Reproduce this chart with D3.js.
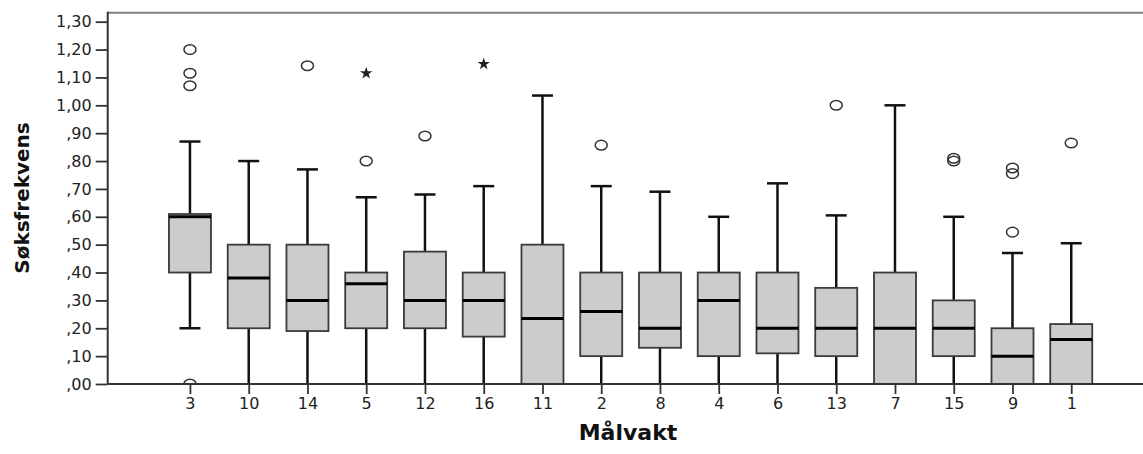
<!DOCTYPE html>
<html lang="no">
	<head>
		<meta charset="utf-8">
		<title>Søksfrekvens per målvakt</title>
		<script src="https://cdnjs.cloudflare.com/ajax/libs/d3/7.8.5/d3.min.js"></script>
		<style type="text/css">
			html, body {
				margin: 0;
				padding: 0;
				background: white;
			}
			#chart {
				display: block;
			}
			.tick-label {
				font-family: "DejaVu Sans", sans-serif;
				font-size: 16px;
				fill: #222;
			}
			.axis-title {
				font-family: "DejaVu Sans", sans-serif;
				font-weight: bold;
				fill: #111;
			}
		</style>
	</head>
	<body>
		<svg id="chart" width="1143" height="454"></svg>

		<script type="text/javascript">

			// data
			var categories  = ["3", "10", "14", "5", "12", "16", "11", "2", "8", "4", "6", "13", "7", "15", "9", "1"];
			var whiskerLow  = [0.20, 0, 0, 0, 0, 0, 0, 0, 0, 0, 0, 0, 0, 0, 0, 0];
			var q1          = [0.40, 0.20, 0.19, 0.20, 0.20, 0.17, 0, 0.10, 0.13, 0.10, 0.11, 0.10, 0, 0.10, 0, 0];
			var medians     = [0.60, 0.38, 0.30, 0.36, 0.30, 0.30, 0.235, 0.26, 0.20, 0.30, 0.20, 0.20, 0.20, 0.20, 0.10, 0.16];
			var q3          = [0.61, 0.50, 0.50, 0.40, 0.475, 0.40, 0.50, 0.40, 0.40, 0.40, 0.40, 0.345, 0.40, 0.30, 0.20, 0.215];
			var whiskerHigh = [0.87, 0.80, 0.77, 0.67, 0.68, 0.71, 1.035, 0.71, 0.69, 0.60, 0.72, 0.605, 1.00, 0.60, 0.47, 0.505];

			// outliers (circles) and extremes (stars) as [category, value]
			var outliers = [
				["3", 1.20], ["3", 1.115], ["3", 1.07], ["3", 0.00],
				["14", 1.142], ["5", 0.80], ["12", 0.89], ["2", 0.857],
				["13", 1.00], ["15", 0.81], ["15", 0.80],
				["9", 0.775], ["9", 0.755], ["9", 0.545], ["1", 0.865]
			];
			var extremes = [["5", 1.115], ["16", 1.148]];

			var yTicks = [0, 0.1, 0.2, 0.3, 0.4, 0.5, 0.6, 0.7, 0.8, 0.9, 1.0, 1.1, 1.2, 1.3];

			var yTitle = "Søksfrekvens";
			var xTitle = "Målvakt";

			//---------------------------------------------
			// layout
			//---------------------------------------------
			var plotLeft = 107.7, plotRight = 1153.5;
			var plotTop = 12.7, plotBottom = 384;

			var svg = d3.select("#chart");

			var x = d3.scalePoint()
				.domain(categories)
				.range([plotLeft, plotRight])
				.padding(1.4);

			var y = d3.scaleLinear()
				.domain([0, 1.3])
				.range([plotBottom, 21.7]);

			var boxWidth = 42;
			var capWidth = 21;

			// comma decimal, no leading zero (",50", "1,20")
			function fmt(v) {
				var s = d3.format(".2f")(v).replace(".", ",");
				if (s.charAt(0) === "0") s = s.slice(1);
				return s;
			}

			svg.append("clipPath")
				.attr("id", "plot-clip")
				.append("rect")
				.attr("x", plotLeft).attr("y", 0)
				.attr("width", plotRight - plotLeft).attr("height", plotBottom);

			//---------------------------------------------
			// frame
			//---------------------------------------------
			svg.append("line")
				.attr("x1", plotLeft).attr("y1", plotTop)
				.attr("x2", plotRight).attr("y2", plotTop)
				.style("stroke", "#808080")
				.style("stroke-width", 2);

			//---------------------------------------------
			// boxes
			//---------------------------------------------
			var data = categories.map(function (c, i) {
				return { cat: c, lo: whiskerLow[i], q1: q1[i], med: medians[i], q3: q3[i], hi: whiskerHigh[i] };
			});

			var boxes = svg.append("g").attr("id", "boxes")
				.selectAll("g")
				.data(data)
				.enter()
				.append("g")
				.attr("transform", function (d) { return "translate(" + x(d.cat) + ",0)"; });

			// whiskers
			boxes.append("line")
				.attr("x1", 0).attr("x2", 0)
				.attr("y1", function (d) { return y(d.q3); })
				.attr("y2", function (d) { return y(d.hi); })
				.style("stroke", "#111")
				.style("stroke-width", 2.5);

			boxes.filter(function (d) { return d.q1 > d.lo; })
				.append("line")
				.attr("x1", 0).attr("x2", 0)
				.attr("y1", function (d) { return y(d.q1); })
				.attr("y2", function (d) { return y(d.lo); })
				.style("stroke", "#111")
				.style("stroke-width", 2.5);

			boxes.append("line")
				.attr("x1", -capWidth / 2).attr("x2", capWidth / 2)
				.attr("y1", function (d) { return y(d.hi); })
				.attr("y2", function (d) { return y(d.hi); })
				.style("stroke", "#111")
				.style("stroke-width", 2.5);

			boxes.filter(function (d) { return d.lo > 0; })
				.append("line")
				.attr("x1", -capWidth / 2).attr("x2", capWidth / 2)
				.attr("y1", function (d) { return y(d.lo); })
				.attr("y2", function (d) { return y(d.lo); })
				.style("stroke", "#111")
				.style("stroke-width", 2.5);

			// box
			boxes.append("rect")
				.attr("x", -boxWidth / 2)
				.attr("width", boxWidth)
				.attr("y", function (d) { return y(d.q3); })
				.attr("height", function (d) { return y(d.q1) - y(d.q3); })
				.style("fill", "#cccccc")
				.style("stroke", "#3a3a3a")
				.style("stroke-width", 1.8);

			// median
			boxes.append("line")
				.attr("x1", -boxWidth / 2).attr("x2", boxWidth / 2)
				.attr("y1", function (d) { return y(d.med); })
				.attr("y2", function (d) { return y(d.med); })
				.style("stroke", "black")
				.style("stroke-width", 3);

			//---------------------------------------------
			// outliers and extremes
			//---------------------------------------------
			var pts = svg.append("g").attr("clip-path", "url(#plot-clip)");

			pts.selectAll("ellipse")
				.data(outliers)
				.enter()
				.append("ellipse")
				.attr("cx", function (d) { return x(d[0]); })
				.attr("cy", function (d) { return y(d[1]); })
				.attr("rx", 6)
				.attr("ry", 4.8)
				.style("fill", "none")
				.style("stroke", "#333")
				.style("stroke-width", 1.5);

			pts.selectAll("path.star")
				.data(extremes)
				.enter()
				.append("path")
				.attr("class", "star")
				.attr("d", d3.symbol().type(d3.symbolStar).size(48))
				.attr("transform", function (d) { return "translate(" + x(d[0]) + "," + y(d[1]) + ")"; })
				.style("fill", "#222");

			//---------------------------------------------
			// axes
			//---------------------------------------------
			var yAxis = svg.append("g")
				.attr("transform", "translate(" + plotLeft + ",0)")
				.call(d3.axisLeft(y).tickValues(yTicks).tickFormat(fmt).tickSizeInner(12).tickSizeOuter(0).tickPadding(4));

			yAxis.select(".domain").remove();
			yAxis.selectAll(".tick line").style("stroke", "#333").style("stroke-width", 1.8);
			yAxis.selectAll(".tick text").attr("class", "tick-label").attr("font-family", null).attr("font-size", null);

			svg.append("line")
				.attr("x1", plotLeft).attr("y1", plotTop - 1)
				.attr("x2", plotLeft).attr("y2", plotBottom)
				.style("stroke", "#333")
				.style("stroke-width", 2);

			var xAxis = svg.append("g")
				.attr("transform", "translate(0," + plotBottom + ")")
				.call(d3.axisBottom(x).tickSizeInner(10).tickSizeOuter(0).tickPadding(4));

			xAxis.select(".domain").remove();
			xAxis.selectAll(".tick line").style("stroke", "#333").style("stroke-width", 1.8);
			xAxis.selectAll(".tick text").attr("class", "tick-label").attr("font-family", null).attr("font-size", null);

			svg.append("line")
				.attr("x1", plotLeft).attr("y1", plotBottom)
				.attr("x2", plotRight).attr("y2", plotBottom)
				.style("stroke", "#333")
				.style("stroke-width", 1.8);

			//---------------------------------------------
			// titles
			//---------------------------------------------
			svg.append("text")
				.attr("class", "axis-title")
				.attr("transform", "translate(29,198) rotate(-90)")
				.attr("text-anchor", "middle")
				.style("font-size", "20px")
				.text(yTitle);

			svg.append("text")
				.attr("class", "axis-title")
				.attr("x", 628)
				.attr("y", 440)
				.attr("text-anchor", "middle")
				.style("font-size", "22px")
				.text(xTitle);

		</script>
	</body>
</html>
